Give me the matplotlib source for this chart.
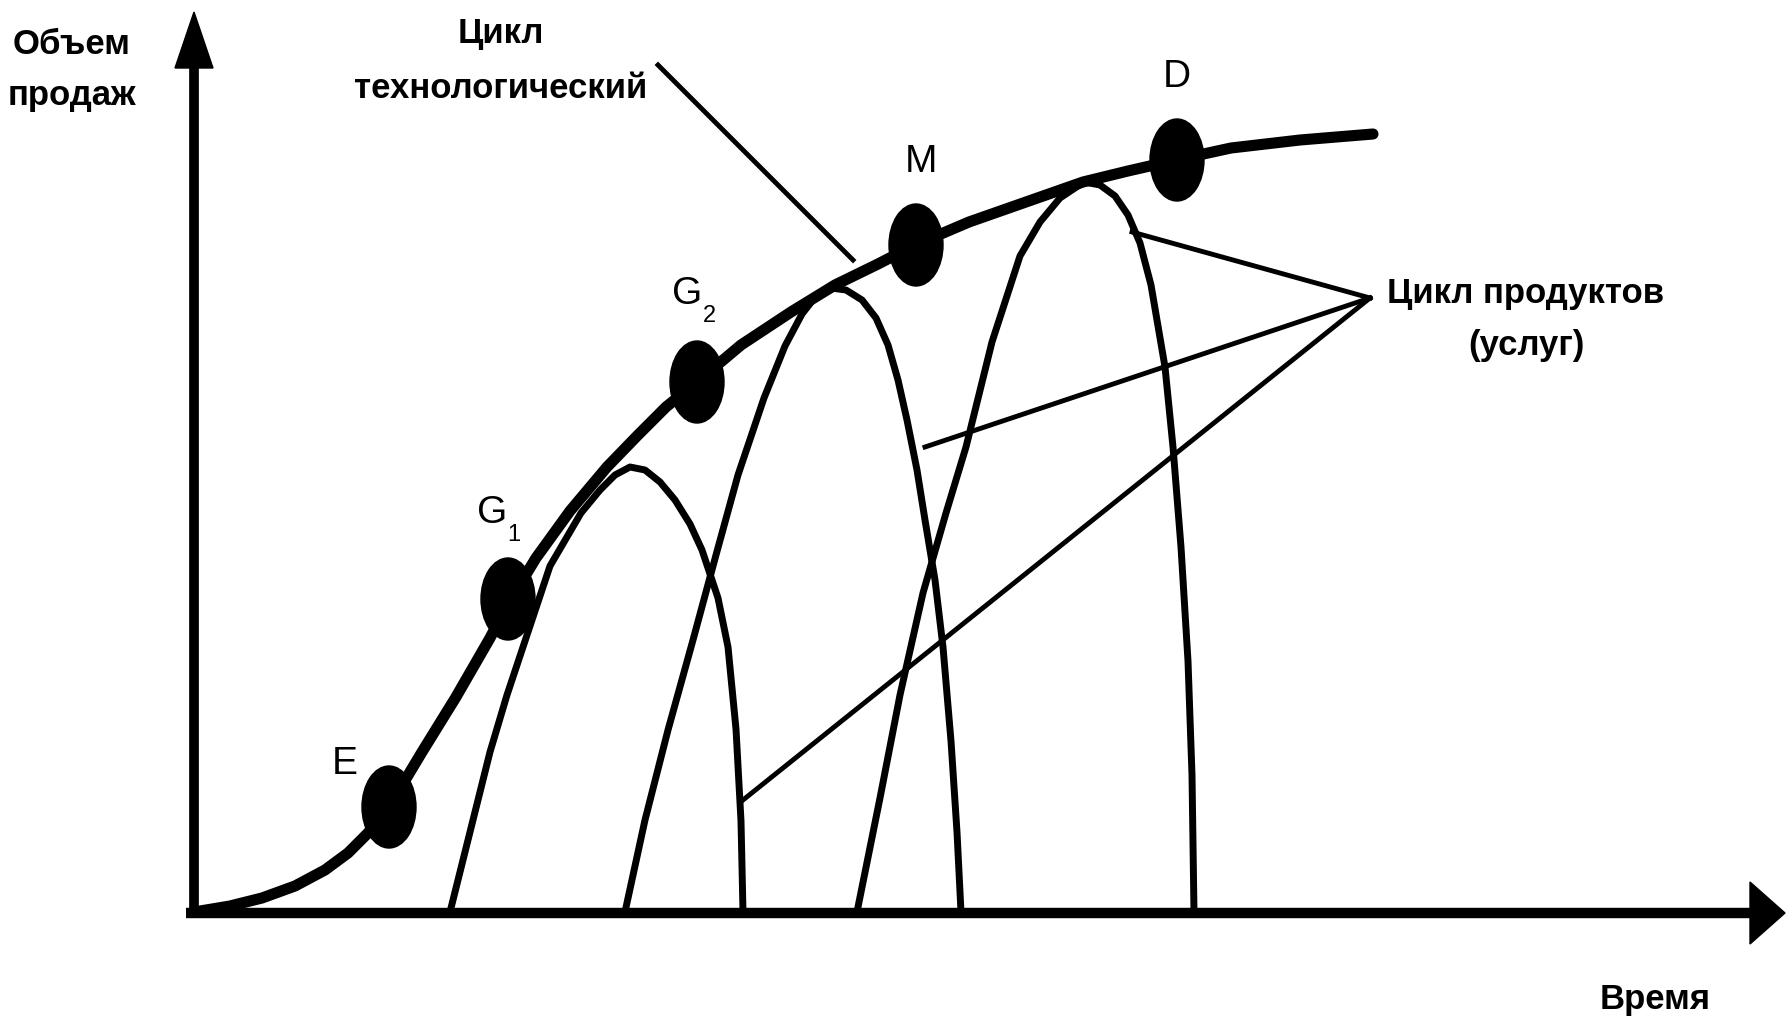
import matplotlib
matplotlib.use('Agg')
import matplotlib.pyplot as plt
from matplotlib.patches import Ellipse

plt.rcParams['font.family'] = ['Liberation Sans Narrow', 'Liberation Sans', 'DejaVu Sans']

# everything is in pixel units of the 1787x1024 picture, y going down
# technology cycle (thick S-curve)
tech_x = [194, 230, 262, 295, 325, 348, 368, 389, 422, 456, 490, 508, 536, 570, 607, 638, 666, 697,
          741, 791, 835, 878, 915, 969, 1026, 1083, 1128, 1176, 1231, 1300, 1373]
tech_y = [912, 906, 898, 886, 870, 853, 833, 807, 752, 697, 638, 604, 558, 511, 467, 435, 407, 382,
          345, 312, 285, 264, 245, 222, 202, 182, 171, 160, 148, 140, 134]

# product (service) cycles
prod1_x = [450, 470, 490, 507, 523, 550, 581, 600, 615, 630, 645, 660, 675, 690, 702, 718, 728, 736, 741, 743]
prod1_y = [912, 832, 752, 695, 647, 566, 513, 490, 475, 467, 470, 482, 500, 524, 550, 598, 647, 729, 821, 912]

prod2_x = [625, 645, 668, 693, 716, 738, 764, 785, 802, 816, 831, 846, 862, 876, 888, 898,
           907, 917, 925, 935, 943, 951, 957, 961]
prod2_y = [912, 820, 730, 640, 555, 475, 398, 346, 314, 296, 288, 290, 300, 318, 345, 380,
           420, 470, 520, 580, 647, 741, 832, 912]

prod3_x = [857, 880, 900, 923, 946, 966, 992, 1020, 1040, 1060, 1084, 1100, 1115, 1128, 1140,
           1151, 1165, 1173, 1181, 1188, 1192, 1194]
prod3_y = [912, 798, 695, 593, 513, 447, 342, 256, 222, 198, 182, 185, 196, 215, 243,
           285, 367, 447, 547, 661, 775, 912]

# stage points on the technology cycle
stage_names = ['E', 'G', 'G', 'M', 'D']
stage_sub = ['', '1', '2', '', '']
stage_x = [389, 508, 697, 916, 1177]
stage_y = [807, 599, 382, 245, 160]
label_x = [345, 492, 687, 921, 1177]
label_y = [764, 513, 294, 162, 77]

# leader lines
tech_lead = ([658, 853], [65, 260])
prod_apex = (1370, 298)
prod_ends_x = [1132, 925, 743]
prod_ends_y = [232, 447, 800]

fig = plt.figure(figsize=(17.87, 10.24), dpi=100)
ax = fig.add_axes([0, 0, 1, 1])
ax.set_xlim(0, 1787)
ax.set_ylim(1024, 0)
ax.axis('off')

# axes with arrow heads
ax.plot([194, 194], [916, 60], color='black', lw=7, solid_capstyle='butt')
ax.fill([175, 194, 213], [68, 12, 68], color='black')
ax.plot([186, 1755], [913, 913], color='black', lw=7.5, solid_capstyle='butt')
ax.fill([1750, 1785, 1750], [882, 913, 944], color='black')

ax.plot(tech_x, tech_y, color='black', lw=8, solid_joinstyle='round', solid_capstyle='round')
for px, py in [(prod1_x, prod1_y), (prod2_x, prod2_y), (prod3_x, prod3_y)]:
    ax.plot(px, py, color='black', lw=5, solid_joinstyle='round')

ax.plot(tech_lead[0], tech_lead[1], color='black', lw=3.5)
for ex, ey in zip(prod_ends_x, prod_ends_y):
    ax.plot([prod_apex[0], ex], [prod_apex[1], ey], color='black', lw=3.5)

for i in range(len(stage_x)):
    ax.add_patch(Ellipse((stage_x[i], stage_y[i]), 54, 82, color='black', zorder=5))
    ax.text(label_x[i], label_y[i], stage_names[i], fontsize=28, ha='center', va='center')
    if stage_sub[i]:
        ax.text(label_x[i] + 22, label_y[i] + 22, stage_sub[i], fontsize=17, ha='center', va='center')

tfont = dict(fontsize=25, fontweight='bold', ha='center', va='center')
ax.text(72, 45, 'Объем', **tfont)
ax.text(72, 95, 'продаж', **tfont)
ax.text(501, 34, 'Цикл', **tfont)
ax.text(501, 88, 'технологический', **tfont)
ax.text(1526, 294, 'Цикл продуктов', **tfont)
ax.text(1526, 345, '(услуг)', **tfont)
ax.text(1655, 1000, 'Время', **tfont)

fig.savefig('out.png', dpi=100, facecolor='white')
